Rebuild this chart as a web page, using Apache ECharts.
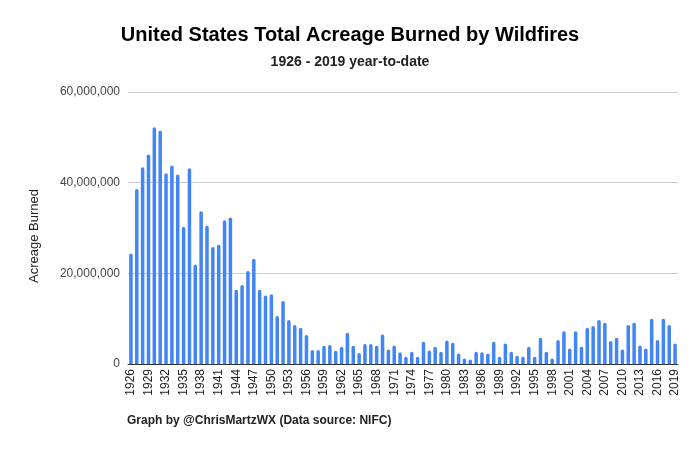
<!DOCTYPE html>
<html>
<head>
<meta charset="utf-8">
<script src="https://cdn.jsdelivr.net/npm/echarts@6/dist/echarts.min.js"></script>
<style>
  html, body { margin: 0; padding: 0; background: #fff; }
  #chart { width: 700px; height: 452px; }
</style>
</head>
<body>
<div id="chart"></div>
<script>
// years 1926 - 2019
const years = [];
for (let y = 1926; y <= 2019; y++) years.push(String(y));

// acres burned, millions
const acresMillions = [
  24.4, 38.6, 43.4, 46.2, 52.2, 51.5, 42.1, 43.8, 41.8, 30.3,
  43.2, 21.9, 33.7, 30.5, 25.8, 26.3, 31.7, 32.3, 16.4, 17.4,
  20.5, 23.2, 16.4, 15.1, 15.4, 10.6, 13.9, 9.7, 8.6, 8.0,
  6.4, 3.1, 3.1, 4.0, 4.2, 2.9, 3.8, 6.9, 4.0, 2.4,
  4.4, 4.4, 4.0, 6.5, 3.2, 4.1, 2.6, 1.6, 2.7, 1.6,
  4.9, 3.0, 3.8, 2.7, 5.2, 4.7, 2.3, 1.2, 1.0, 2.7,
  2.6, 2.3, 4.9, 1.6, 4.5, 2.7, 1.8, 1.6, 3.8, 1.6,
  5.8, 2.7, 1.2, 5.3, 7.2, 3.4, 7.2, 3.8, 8.0, 8.4,
  9.7, 9.1, 5.1, 5.8, 3.2, 8.6, 9.1, 4.1, 3.4, 10.0,
  5.3, 10.0, 8.6, 4.5
];
const acres = acresMillions.map(v => Math.round(v * 1e6));

const font = "Liberation Sans, Arial, sans-serif";

const option = {
  backgroundColor: "#fff",
  animation: false,
  textStyle: { fontFamily: font },
  title: [
    {
      text: "United States Total Acreage Burned by Wildfires",
      left: "center",
      top: 20,
      textStyle: { fontSize: 20, fontWeight: "bold", color: "#000", fontFamily: font }
    },
    {
      text: "1926 - 2019 year-to-date",
      left: "center",
      top: 50,
      textStyle: { fontSize: 14, fontWeight: "bold", color: "#222", fontFamily: font }
    },
    {
      text: "Graph by @ChrisMartzWX (Data source: NIFC)",
      left: 127,
      top: 415,
      padding: 0,
      textStyle: { fontSize: 12, fontWeight: "bold", color: "#222", fontFamily: font }
    }
  ],
  grid: {
    left: 128,
    right: 22,
    top: 92,
    bottom: 88,
    containLabel: false
  },
  xAxis: {
    type: "category",
    data: years,
    axisLine: { lineStyle: { color: "#333" } },
    axisTick: { show: false },
    axisLabel: {
      interval: 2,
      rotate: 90,
      color: "#222",
      fontSize: 12,
      margin: 5,
      fontFamily: font
    }
  },
  yAxis: {
    type: "value",
    min: 0,
    max: 60000000,
    interval: 20000000,
    name: "Acreage Burned",
    nameLocation: "middle",
    nameGap: 87,
    nameTextStyle: { fontSize: 13, color: "#222", fontFamily: font, padding: [0, 16, 0, 0] },
    axisLine: { show: false },
    axisTick: { show: false },
    splitLine: { lineStyle: { color: "#ccc" } },
    axisLabel: {
      color: "#444",
      fontSize: 12,
      margin: 8,
      fontFamily: font,
      formatter: v => v.toLocaleString("en-US")
    }
  },
  series: [
    {
      name: "Acreage Burned",
      type: "bar",
      data: acres,
      barCategoryGap: "40%",
      itemStyle: { color: "#4285f4", borderRadius: [2, 2, 0, 0] }
    }
  ]
};

const myChart = echarts.init(document.getElementById("chart"), null, { renderer: "canvas" });
myChart.setOption(option);
</script>
</body>
</html>
